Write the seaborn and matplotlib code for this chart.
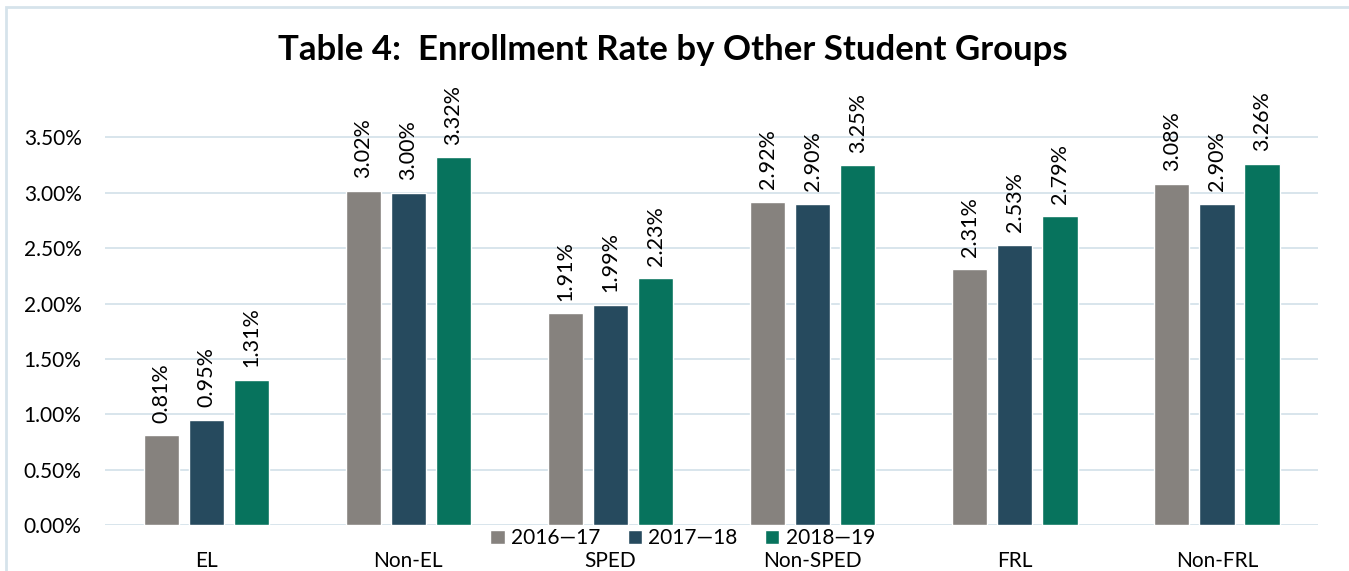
import pandas as pd
import matplotlib.pyplot as plt
import seaborn as sns
from matplotlib.patches import Rectangle
from matplotlib.ticker import PercentFormatter

# values (percent)
groups = ['EL', 'Non-EL', 'SPED', 'Non-SPED', 'FRL', 'Non-FRL']
years = ['2016—17', '2017—18', '2018—19']
rate_1617 = [0.81, 3.02, 1.91, 2.92, 2.31, 3.08]
rate_1718 = [0.95, 3.00, 1.99, 2.90, 2.53, 2.90]
rate_1819 = [1.31, 3.32, 2.23, 3.25, 2.79, 3.26]
colors = ['#86827E', '#264A5E', '#07735D']

df = pd.DataFrame({'Group': groups * 3,
                   'Year': [y for y in years for _ in groups],
                   'Rate': rate_1617 + rate_1718 + rate_1819})

sns.set_style('white')
plt.rcParams['font.family'] = ['Lato', 'DejaVu Sans']
plt.rcParams['text.color'] = 'black'
plt.rcParams['xtick.color'] = 'black'
plt.rcParams['ytick.color'] = 'black'

fig = plt.figure(figsize=(13.49, 5.71), dpi=100)
ax = fig.add_axes([0.078, 0.0806, 0.899, 0.766])

sns.barplot(data=df, x='Group', y='Rate', hue='Year', palette=colors,
            width=0.67, gap=0.22, ax=ax, saturation=1)

# data labels
for cont in ax.containers:
    ax.bar_label(cont, labels=[f'{v:.2f}%' for v in cont.datavalues],
                 rotation=90, padding=9, fontsize=15.5, color='black')

ax.set_ylim(0, 3.95)
ax.set_xlim(-0.5, 5.5)
ax.set_yticks([0, 0.5, 1, 1.5, 2, 2.5, 3, 3.5])
ax.yaxis.set_major_formatter(PercentFormatter(decimals=2))
ax.grid(axis='y', color='#D6E3EB', linewidth=1.3)
ax.set_axisbelow(True)
for s in ax.spines.values():
    s.set_visible(False)
ax.tick_params(axis='y', labelsize=15, length=0, pad=17)
ax.tick_params(axis='x', labelsize=15, length=0, pad=19)
ax.set_xlabel('')
ax.set_ylabel('')

ax.legend(loc='center', bbox_to_anchor=(0.476, -0.03), ncol=3, frameon=False,
          fontsize=15, handlelength=0.7, handleheight=0.7, handletextpad=0.3,
          columnspacing=1.3, borderaxespad=0, labelcolor='black')

fig.text(0.4985, 0.912, 'Table 4:  Enrollment Rate by Other Student Groups',
         ha='center', va='center', fontsize=25, fontweight='bold', color='black')

fig.patches.append(Rectangle((6 / 1349, -0.05), 1.2, 1 - 7 / 571 + 0.05,
                             transform=fig.transFigure, fill=False,
                             edgecolor='#D6E3EB', linewidth=2))

fig.savefig('out.png', dpi=100)
